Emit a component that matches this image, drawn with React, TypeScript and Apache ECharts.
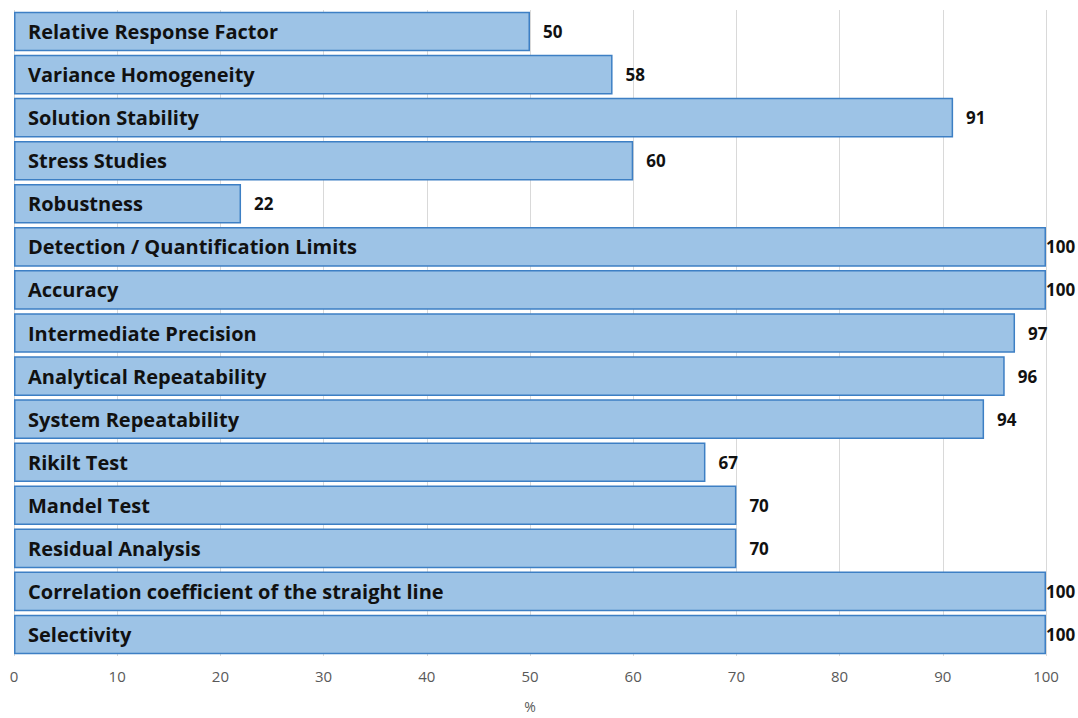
import React, { useEffect, useRef } from "react";
import * as echarts from "echarts";

const categories = [
  "Relative Response Factor",
  "Variance Homogeneity",
  "Solution Stability",
  "Stress Studies",
  "Robustness",
  "Detection / Quantification Limits",
  "Accuracy",
  "Intermediate Precision",
  "Analytical Repeatability",
  "System Repeatability",
  "Rikilt Test",
  "Mandel Test",
  "Residual Analysis",
  "Correlation coefficient of the straight line",
  "Selectivity",
];

const values = [50, 58, 91, 60, 22, 100, 100, 97, 96, 94, 67, 70, 70, 100, 100];

const xTicks = [0, 10, 20, 30, 40, 50, 60, 70, 80, 90, 100];

const FONT = "'Open Sans', Lato, sans-serif";

export default function App() {
  const ref = useRef<HTMLDivElement>(null);

  useEffect(() => {
    if (!ref.current) return;
    const chart = echarts.init(ref.current, undefined, { renderer: "svg" });
    chart.setOption({
      animation: false,
      textStyle: { fontFamily: FONT },
      grid: { left: 14, right: 32, top: 10, bottom: 57, containLabel: false },
      xAxis: {
        type: "value",
        min: xTicks[0],
        max: xTicks[xTicks.length - 1],
        interval: 10,
        name: "%",
        nameLocation: "middle",
        nameGap: 43,
        nameTextStyle: { color: "#595959", fontSize: 14, fontFamily: FONT },
        axisLine: { show: false },
        axisTick: { show: false },
        axisLabel: { color: "#595959", fontSize: 15, margin: 12, fontFamily: FONT },
        splitLine: { show: true, lineStyle: { color: "#d9d9d9", width: 1 } },
      },
      yAxis: {
        type: "category",
        data: categories,
        inverse: true,
        z: 10,
        axisLine: { show: false },
        axisTick: { show: false },
        axisLabel: {
          inside: true,
          margin: 14,
          color: "#111",
          fontWeight: "bold",
          fontSize: 20,
          fontFamily: FONT,
        },
      },
      series: [
        {
          type: "bar",
          barCategoryGap: "8%",
          data: values.map((v) => ({
            value: v,
            label: { distance: v >= 100 ? 0 : 13 },
          })),
          itemStyle: {
            color: "#9dc3e6",
            borderColor: "#3d7fc4",
            borderWidth: 1.5,
          },
          label: {
            show: true,
            position: "right",
            color: "#111",
            fontWeight: "bold",
            fontSize: 17,
            fontFamily: FONT,
          },
        },
      ],
    });
    return () => chart.dispose();
  }, []);

  return (
    <div
      ref={ref}
      style={{ position: "absolute", left: 0, top: 0, width: 1078, height: 718 }}
    />
  );
}
